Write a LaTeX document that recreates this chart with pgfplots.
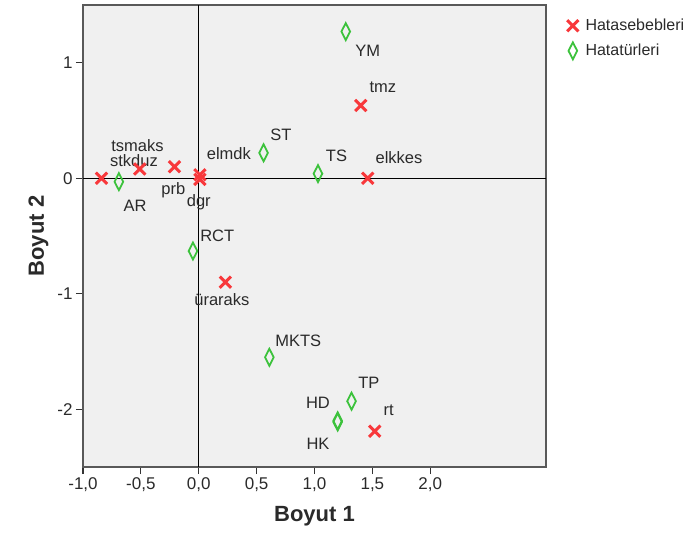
\documentclass[border=0pt]{standalone}
\usepackage{fontspec}
\setmainfont{Liberation Sans}
\usepackage{pgfplots}
\pgfplotsset{compat=1.18}
\definecolor{bgc}{HTML}{F0F0F0}
\definecolor{redx}{HTML}{F8383B}
\definecolor{greend}{HTML}{3CC23C}
\definecolor{txt}{HTML}{2A2A2A}
\begin{document}
\begin{tikzpicture}
\begin{axis}[
  name=ax,
  scale only axis,
  width=463pt, height=462pt,
  xmin=-1.0, xmax=3.0, ymin=-2.5, ymax=1.5,
  axis background/.style={fill=bgc},
  axis line style={draw=black!65, line width=1.6pt},
  xtick={-1,-0.5,0,0.5,1,1.5,2},
  xticklabels={{-1,0},{-0,5},{0,0},{0,5},{1,0},{1,5},{2,0}},
  ytick={-2,-1,0,1},
  yticklabels={-2,-1,0,1},
  tick align=outside,
  xtick pos=bottom, ytick pos=left,
  major tick length=7pt,
  tick style={black!80, line width=1.2pt},
  ticklabel style={font=\fontsize{17}{19}\selectfont, text=txt},
  xlabel={\textbf{Boyut 1}},
  ylabel={\textbf{Boyut 2}},
  label style={font=\fontsize{22}{24}\selectfont\bfseries, text=txt},
  xlabel style={yshift=-8pt},
  ylabel style={yshift=2pt},
  clip=false,
  legend style={at={(1.0,1.0)}, anchor=north west, xshift=18pt, yshift=-10pt, draw=none, fill=none,
    font=\fontsize{16}{18}\selectfont, text=txt, row sep=8pt, cells={anchor=west},
    /tikz/every odd column/.append style={column sep=5pt}},
  legend cell align=left,
]
\draw[black, line width=1.2pt] (axis cs:0,-2.5) -- (axis cs:0,1.5);
\draw[black, line width=1.2pt] (axis cs:-1,0) -- (axis cs:3,0);
\addplot[only marks, mark=x, mark size=8pt, mark options={draw=redx, line width=3pt}] coordinates {
(-0.84,0.00) (-0.51,0.08) (-0.21,0.10) (0.01,0.03) (0.01,-0.01)
(1.40,0.63) (1.46,0.00) (0.23,-0.90) (1.52,-2.19)
};
\addlegendentry{Hatasebebleri}
\addplot[only marks, mark=diamond, mark size=8.5pt, mark options={draw=greend, fill=white!60!bgc, line width=1.8pt, xscale=0.68}] coordinates {
(-0.69,-0.03) (0.56,0.22) (1.03,0.04) (1.27,1.27) (-0.05,-0.63)
(0.61,-1.55) (1.32,-1.93) (1.20,-2.11) (1.20,-2.10)
};
\addlegendentry{Hatatürleri}
\begin{scope}[every node/.style={font=\fontsize{16.5}{18}\selectfont, text=txt, inner sep=0pt}]
\node at (axis cs:1.46,1.10) {YM};
\node at (axis cs:1.59,0.79) {tmz};
\node at (axis cs:0.71,0.38) {ST};
\node at (axis cs:1.19,0.19) {TS};
\node at (axis cs:1.73,0.18) {elkkes};
\node at (axis cs:0.26,0.21) {elmdk};
\node at (axis cs:-0.53,0.285) {tsmaks};
\node at (axis cs:-0.56,0.15) {stkduz};
\node at (axis cs:-0.22,-0.10) {prb};
\node at (axis cs:0.00,-0.21) {dgr};
\node at (axis cs:-0.55,-0.24) {AR};
\node at (axis cs:0.16,-0.50) {RCT};
\node at (axis cs:0.20,-1.05) {üraraks};
\node at (axis cs:0.86,-1.41) {MKTS};
\node at (axis cs:1.47,-1.77) {TP};
\node at (axis cs:1.03,-1.94) {HD};
\node at (axis cs:1.64,-2.01) {rt};
\node at (axis cs:1.03,-2.30) {HK};
\end{scope}
\end{axis}
\pgfresetboundingbox
\path[use as bounding box] ([xshift=-83pt,yshift=-85pt]ax.south west) rectangle ([xshift=153pt,yshift=5pt]ax.north east);
\end{tikzpicture}
\end{document}
